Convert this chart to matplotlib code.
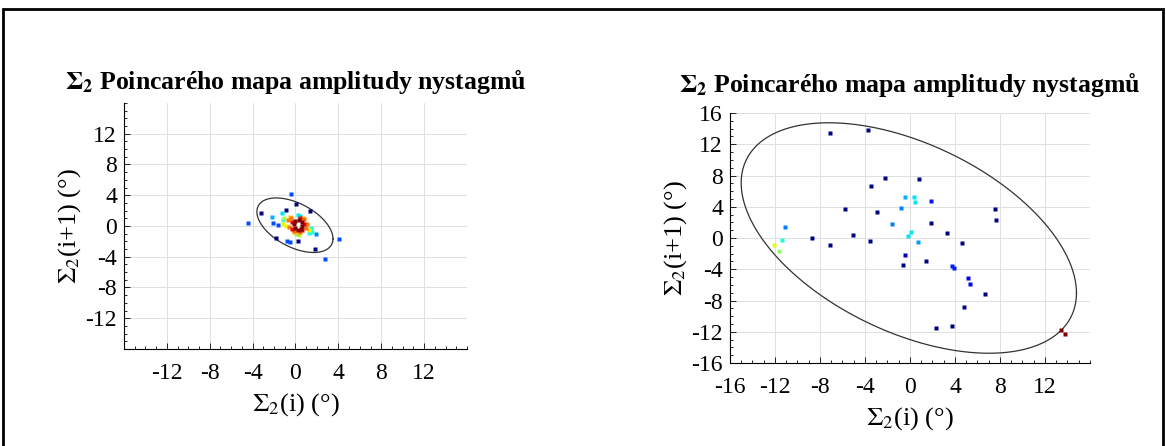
import numpy as np
import matplotlib
matplotlib.use("Agg")
import matplotlib.pyplot as plt
from matplotlib.patches import Rectangle

plt.rcParams['font.family'] = ['Liberation Serif', 'DejaVu Serif']
plt.rcParams['mathtext.fontset'] = 'stix'
plt.rcParams['axes.unicode_minus'] = False

# left panel: points (x, y) and colour level 0..1 (jet)
left_x = [-0.44, 0.06, -0.89, 1.36, -3.25, -1.22, -1.17, -2.22, -2.14, -1.67, -4.42, 0.25, 0.44,
          -1.86, -0.75, -0.5, 0.25, 1.8, 2.72, 4.05, 1.9, 1.47, 1.55, 1.25, 0.08,
          -1.1, 0.3, -1.2, -0.9, 1.3, -0.5, 0.7, 0.2, -0.1,
          -0.7, -0.4, 1.0, -0.6, 0.4, 1.1, -0.1, 0.8,
          -0.3, 0.8, 0.6, -0.3, 0.4,
          0.0, 0.35, 0.6, 0.65, 0.55, 0.2, -0.05, -0.1]
left_y = [4.17, 2.84, 2.05, 1.9, 1.63, 1.67, 0.83, 1.14, 0.45, 0.08, 0.34, 1.44, 1.36,
          -1.5, -2.0, -2.08, -2.0, -3.0, -4.28, -1.67, -1.0, -0.3, -0.8, -0.87, -1.06,
          1.0, -1.2, 0.3, 0.0, -0.5, 1.2, 1.1, -0.9, -0.8,
          0.8, 1.0, -0.2, -0.1, -0.8, 0.3, -0.6, 0.9,
          0.5, 0.3, -0.5, -0.4, 1.0,
          0.7, 0.8, 0.5, 0.0, -0.4, -0.5, -0.2, 0.3]
left_c = [0.2, 0.0, 0.0, 0.0, 0.0, 0.35, 0.4, 0.3, 0.2, 0.2, 0.2, 0.35, 0.35,
          0.0, 0.2, 0.2, 0.0, 0.0, 0.2, 0.2, 0.25, 0.38, 0.38, 0.38, 0.5,
          0.55, 0.55, 0.65, 0.65, 0.65, 0.7, 0.7, 0.7, 0.7,
          0.78, 0.78, 0.78, 0.78, 0.78, 0.78, 0.8, 0.8,
          0.9, 0.9, 0.9, 0.9, 0.9,
          1.0, 1.0, 1.0, 1.0, 1.0, 1.0, 1.0, 1.0]

# right panel
right_x = [-7.1, -3.7, -2.2, 0.77, -3.45, -0.42, 0.33, 0.48, 1.9, -0.8, -5.74, -2.9, 7.53, 7.68,
           -1.6, 1.85, -11.07, -8.7, -5.1, 0.06, -0.18, 3.3, -11.4, -12.1, -11.6, -7.1, -3.57,
           0.68, 4.64, -0.48, -0.63, 1.43, 3.75, 3.93, 5.2, 5.36, 6.67, 4.76, 2.32, 3.7,
           13.45, 13.8]
right_y = [13.5, 13.8, 7.65, 7.5, 6.6, 5.2, 5.25, 4.66, 4.8, 3.85, 3.67, 3.3, 3.67, 2.26,
           1.75, 1.9, 1.4, -0.04, 0.43, 0.8, 0.2, 0.6, -0.26, -0.9, -1.67, -0.9, -0.43,
           -0.5, -0.64, -2.2, -3.46, -3.0, -3.6, -3.85, -5.17, -5.85, -7.2, -8.85, -11.5, -11.2,
           -11.8, -12.3]
right_c = [0.0, 0.0, 0.0, 0.0, 0.0, 0.3, 0.35, 0.35, 0.15, 0.25, 0.0, 0.0, 0.0, 0.0,
           0.25, 0.0, 0.25, 0.0, 0.0, 0.35, 0.35, 0.0, 0.38, 0.62, 0.52, 0.0, 0.0,
           0.28, 0.0, 0.05, 0.0, 0.0, 0.15, 0.15, 0.12, 0.12, 0.0, 0.0, 0.0, 0.0,
           1.0, 1.0]

# ellipses: centre and covariance-like shape
left_ell_c = (-0.05, 0.1)
left_ell_s = [[12.6, -6.2], [-6.2, 12.6]]
right_ell_c = (-0.1, 0.0)
right_ell_s = [[222.0, -105.0], [-105.0, 217.6]]

title = r'$\mathbf{\Sigma_2}$ Poincarého mapa amplitudy nystagmů'


def draw_panel(ax, xs, ys, cs, ec, es, xlim, ylim, ticks, tpad):
    cmap = plt.get_cmap('jet')
    for x, y, c in zip(xs, ys, cs):
        ax.plot(x, y, 's', ms=3, color=cmap(c), mec='none', zorder=3)
    L = np.linalg.cholesky(np.array(es))
    t = np.linspace(0, 2 * np.pi, 300)
    pts = L @ np.vstack([np.cos(t), np.sin(t)])
    ax.plot(ec[0] + pts[0], ec[1] + pts[1], color='#333333', lw=0.9, zorder=2)
    ax.set_xlim(*xlim)
    ax.set_ylim(*ylim)
    ax.set_xticks(ticks[0])
    ax.set_yticks(ticks[1])
    ax.set_xticks(np.arange(-16, 16.1, 1), minor=True)
    ax.set_yticks(np.arange(-16, 16.1, 1), minor=True)
    ax.grid(True, color='#e0e0e0', lw=0.7)
    ax.set_axisbelow(True)
    ax.spines['top'].set_visible(False)
    ax.spines['right'].set_visible(False)
    ax.tick_params(which='both', direction='in', labelsize=17, width=0.6)
    ax.tick_params(which='major', length=4)
    ax.tick_params(which='minor', length=2)
    ax.tick_params(axis='x', which='major', pad=10)
    ax.tick_params(axis='y', which='major', pad=5)
    ax.set_xlabel(r'$\Sigma_2$(i) (°)', fontsize=19, labelpad=5)
    ax.set_ylabel(r'$\Sigma_2$(i+1) (°)', fontsize=19, labelpad=2)
    ax.set_title(title, fontsize=18.5, fontweight='bold', pad=tpad)


fig = plt.figure(figsize=(11.66, 4.46), dpi=100)
ax1 = fig.add_axes([0.1063, 0.2175, 0.2942, 0.5516])
ax2 = fig.add_axes([0.626, 0.1861, 0.3088, 0.5605])

draw_panel(ax1, left_x, left_y, left_c, left_ell_c, left_ell_s,
           (-14.2, 14.2), (-13.9, 13.9),
           ([-12, -8, -4, 0, 4, 8, 12], [-12, -8, -4, 0, 4, 8, 12]), 10)
draw_panel(ax2, right_x, right_y, right_c, right_ell_c, right_ell_s,
           (-16, 15.8), (-16, 16),
           ([-16, -12, -8, -4, 0, 4, 8, 12], [-16, -12, -8, -4, 0, 4, 8, 12, 16]), 15)

# outer frame
fig.patches.append(Rectangle((3 / 1166, -0.1), 1160 / 1166, 1.1 - 9 / 446,
                             transform=fig.transFigure, fill=False, ec='black', lw=2))

fig.savefig('out.png', dpi=100)
